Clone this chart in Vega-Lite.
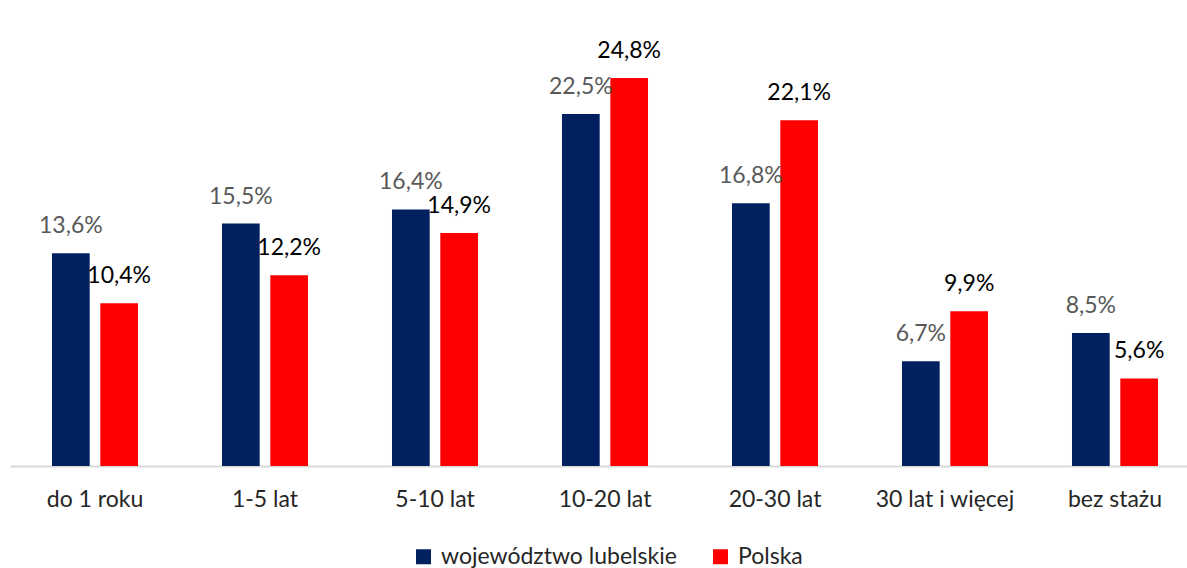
{
  "$schema": "https://vega.github.io/schema/vega-lite/v6.json",
  "width": 1190,
  "height": 438,
  "autosize": {"type": "none"},
  "padding": {"left": 10, "top": 28, "right": 0, "bottom": 102},
  "background": "white",
  "config": {
    "view": {"stroke": null},
    "font": "Lato",
    "locale": {
      "number": {"decimal": ",", "thousands": " ", "grouping": [3], "currency": ["", " zł"], "percent": "%"}
    }
  },
  "data": {
    "values": [
      {"kat": "do 1 roku", "seria": "województwo lubelskie", "v": 0.136},
      {"kat": "do 1 roku", "seria": "Polska", "v": 0.104},
      {"kat": "1-5 lat", "seria": "województwo lubelskie", "v": 0.155},
      {"kat": "1-5 lat", "seria": "Polska", "v": 0.122},
      {"kat": "5-10 lat", "seria": "województwo lubelskie", "v": 0.164},
      {"kat": "5-10 lat", "seria": "Polska", "v": 0.149},
      {"kat": "10-20 lat", "seria": "województwo lubelskie", "v": 0.225},
      {"kat": "10-20 lat", "seria": "Polska", "v": 0.248},
      {"kat": "20-30 lat", "seria": "województwo lubelskie", "v": 0.168},
      {"kat": "20-30 lat", "seria": "Polska", "v": 0.221},
      {"kat": "30 lat i więcej", "seria": "województwo lubelskie", "v": 0.067},
      {"kat": "30 lat i więcej", "seria": "Polska", "v": 0.099},
      {"kat": "bez stażu", "seria": "województwo lubelskie", "v": 0.085},
      {"kat": "bez stażu", "seria": "Polska", "v": 0.056}
    ]
  },
  "encoding": {
    "x": {
      "field": "kat",
      "type": "nominal",
      "sort": null,
      "scale": {"paddingInner": 0.494, "paddingOuter": 0.247},
      "axis": {
        "title": null,
        "labelAngle": 0,
        "labelFontSize": 23,
        "labelColor": "#262626",
        "labelPadding": 22,
        "labelLimit": 300,
        "ticks": false,
        "domainColor": "#D9D9D9",
        "domainWidth": 2
      }
    },
    "xOffset": {
      "field": "seria",
      "type": "nominal",
      "sort": ["województwo lubelskie", "Polska"],
      "scale": {"paddingInner": 0.22, "paddingOuter": 0}
    },
    "y": {
      "field": "v",
      "type": "quantitative",
      "scale": {"domain": [0, 0.28]},
      "axis": null
    }
  },
  "layer": [
    {
      "mark": {"type": "bar"},
      "encoding": {
        "color": {
          "field": "seria",
          "type": "nominal",
          "sort": ["województwo lubelskie", "Polska"],
          "scale": {"domain": ["województwo lubelskie", "Polska"], "range": ["#002060", "#FF0000"]},
          "legend": {
            "title": null,
            "orient": "none",
            "legendX": 402,
            "legendY": 517,
            "direction": "horizontal",
            "symbolType": "square",
            "symbolSize": 225,
            "symbolStrokeWidth": 0,
            "labelFontSize": 23,
            "labelColor": "#262626",
            "labelLimit": 400,
            "columnPadding": 32,
            "labelOffset": 6
          }
        }
      }
    },
    {
      "mark": {"type": "text", "dy": -27, "fontSize": 23, "baseline": "middle"},
      "encoding": {
        "text": {"field": "v", "type": "quantitative", "format": ".1%"},
        "color": {
          "condition": {"test": "datum.seria === 'Polska'", "value": "#000000"},
          "value": "#595959"
        }
      }
    }
  ]
}
